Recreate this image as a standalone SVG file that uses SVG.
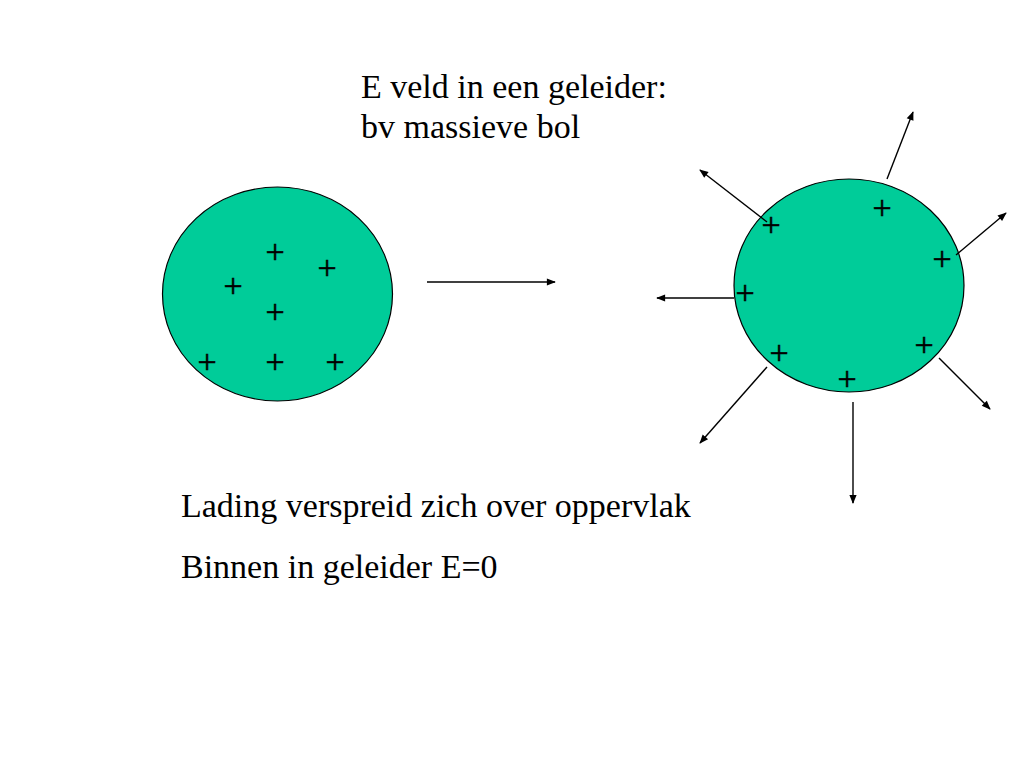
<svg xmlns="http://www.w3.org/2000/svg" width="1024" height="768" viewBox="0 0 1024 768">
<defs>
<style>
.t{font-family:"Liberation Serif","Times New Roman",serif;font-size:34px;fill:#000}
.p{font-family:"Liberation Serif","Times New Roman",serif;font-size:34px;fill:#000;stroke:#000;stroke-width:0.5;text-anchor:middle}
.ball{fill:#00CC99;stroke:#000;stroke-width:1.2}
.c{stroke:#000;stroke-width:1.4;fill:none;marker-end:url(#ah)}
</style>
<marker id="ah" viewBox="0 0 10 10" refX="9" refY="5" markerWidth="10" markerHeight="9" orient="auto" markerUnits="userSpaceOnUse">
<path d="M0,1 L10,5 L0,9 Z" fill="#000"/>
</marker>
</defs>
<rect width="1024" height="768" fill="#fff"/>
<g id="title">
<text class="t" x="361" y="98">E veld in een geleider:</text>
<text class="t" x="361" y="138">bv massieve bol</text>
</g>
<g id="ball-left">
<ellipse class="ball" cx="277.5" cy="294" rx="115" ry="107"/>
<text class="p" x="275" y="263">+</text>
<text class="p" x="327" y="279">+</text>
<text class="p" x="233" y="297">+</text>
<text class="p" x="275" y="323">+</text>
<text class="p" x="207" y="373">+</text>
<text class="p" x="275" y="373">+</text>
<text class="p" x="335" y="373">+</text>
</g>
<g id="ball-right">
<ellipse class="ball" cx="849" cy="285.5" rx="115" ry="106.5"/>
<text class="p" x="882" y="219">+</text>
<text class="p" x="942" y="270">+</text>
<text class="p" x="771" y="236">+</text>
<text class="p" x="745" y="304">+</text>
<text class="p" x="779" y="364">+</text>
<text class="p" x="924" y="356">+</text>
<text class="p" x="847" y="390">+</text>
</g>
<g id="connectors">
<line class="c" x1="427" y1="282" x2="555" y2="282"/>
<line class="c" x1="887" y1="179" x2="913" y2="112"/>
<line class="c" x1="767" y1="222" x2="700" y2="170"/>
<line class="c" x1="956" y1="255" x2="1006" y2="213"/>
<line class="c" x1="734" y1="298" x2="657" y2="298"/>
<line class="c" x1="767" y1="367" x2="700" y2="443"/>
<line class="c" x1="853" y1="402" x2="853" y2="503"/>
<line class="c" x1="939" y1="358" x2="990" y2="409"/>
</g>
<g id="notes">
<text class="t" x="181" y="517">Lading verspreid zich over oppervlak</text>
<text class="t" x="181" y="578">Binnen in geleider E=0</text>
</g>
</svg>
